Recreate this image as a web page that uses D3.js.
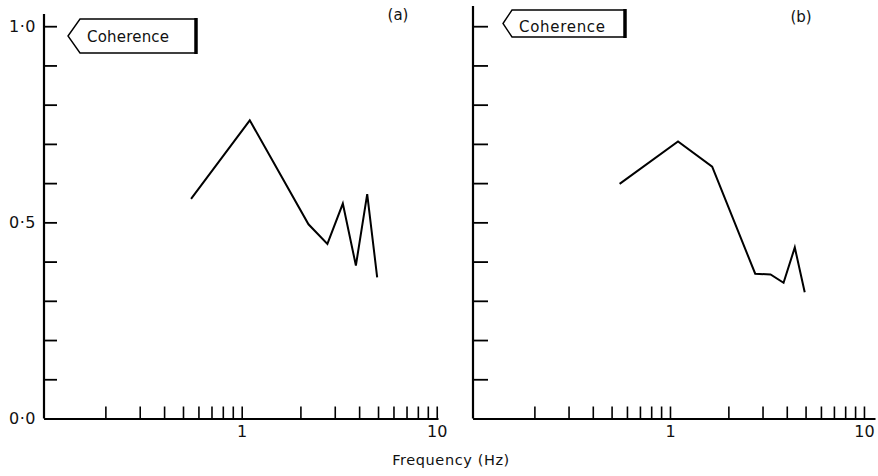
<!DOCTYPE html>
<html>
<head>
<meta charset="utf-8">
<script src="https://cdn.jsdelivr.net/npm/d3@7"></script>
<style>
  body { margin: 0; background: #fff; }
  svg text { font-family: "DejaVu Sans", sans-serif; fill: #111; }
</style>
</head>
<body>
<div id="chart"></div>
<script>
// frequencies (Hz) and coherence
const freqA = [0.55, 1.1, 2.2, 2.75, 3.3, 3.85, 4.4, 4.95];
const cohA = [0.56, 0.76, 0.495, 0.445, 0.548, 0.39, 0.572, 0.36];
const freqB = [0.55, 1.1, 1.65, 2.75, 3.3, 3.85, 4.4, 4.95];
const cohB = [0.598, 0.706, 0.642, 0.369, 0.367, 0.346, 0.436, 0.322];

const xTicks = [0.2, 0.3, 0.4, 0.5, 0.6, 0.7, 0.8, 0.9, 1, 2, 3, 4, 5, 6, 7, 8, 9, 10];
const xLabels = [1, 10];
const yTicks = [0, 0.1, 0.2, 0.3, 0.4, 0.5, 0.6, 0.7, 0.8, 0.9, 1.0];
const yLabels = { 0: "0·0", 0.5: "0·5", 1: "1·0" };

const W = 878, H = 476;

const svg = d3.select("#chart").append("svg")
    .attr("width", W)
    .attr("height", H);

const y = d3.scaleLinear().domain([0, 1]).range([418.5, 26.2]);

function panel(opt) {
    const x = d3.scaleLog().domain(opt.xDomain).range(opt.xRange);
    const g = svg.append("g");

    // x axis, ticks pointing up
    const xAxis = g.append("g")
        .attr("transform", "translate(0," + y(0) + ")")
        .call(d3.axisBottom(x)
            .tickValues(xTicks)
            .tickSize(-12)
            .tickSizeOuter(0)
            .tickPadding(7)
            .tickFormat(d => xLabels.includes(d) ? String(d) : ""));
    xAxis.select(".domain").attr("stroke-width", 2.2);
    xAxis.selectAll(".tick line").attr("stroke-width", 1.6);
    xAxis.selectAll("text").attr("font-size", 16).attr("fill", "#111");

    // y axis, ticks pointing right
    const yAxis = g.append("g")
        .attr("transform", "translate(" + opt.xRange[0] + ",0)")
        .call(d3.axisLeft(y)
            .tickValues(yTicks)
            .tickSize(-opt.yTick)
            .tickSizeOuter(0)
            .tickPadding(8)
            .tickFormat(d => opt.yText && yLabels[d] ? yLabels[d] : ""));
    yAxis.select(".domain").attr("d", "M0," + opt.yTop + "V" + y(0)).attr("stroke-width", 2.2);
    yAxis.selectAll(".tick line").attr("stroke-width", 1.8);
    yAxis.selectAll("text").attr("font-size", 16).attr("letter-spacing", 0.5).attr("fill", "#111");

    // data line
    const pts = opt.freq.map((f, i) => [f, opt.coh[i]]);
    g.append("path")
        .datum(pts)
        .attr("fill", "none")
        .attr("stroke", "#000")
        .attr("stroke-width", 2)
        .attr("stroke-linejoin", "miter")
        .attr("d", d3.line().x(d => x(d[0])).y(d => y(d[1])));

    // "Coherence" flag label
    const b = opt.box;
    g.append("path")
        .attr("d", `M${b.x0},${(b.y0 + b.y1) / 2}L${b.x1},${b.y0}H${b.x2}V${b.y1}H${b.x1}Z`)
        .attr("fill", "none")
        .attr("stroke", "#000")
        .attr("stroke-width", 1.4);
    g.append("line")
        .attr("x1", b.x2).attr("x2", b.x2)
        .attr("y1", b.y0 - 1).attr("y2", b.y1 + 1)
        .attr("stroke", "#000")
        .attr("stroke-width", 3.5);
    g.append("text")
        .attr("x", b.tx)
        .attr("y", b.ty)
        .attr("font-size", 15)
        .attr("textLength", b.tw)
        .text("Coherence");

    g.append("text")
        .attr("x", opt.tag[0])
        .attr("y", opt.tag[1])
        .attr("text-anchor", "middle")
        .attr("font-size", 15)
        .text(opt.tagText);
}

panel({
    freq: freqA, coh: cohA,
    xDomain: [0.0969, 10.15], xRange: [44, 438],
    yTop: 14, yTick: 13, yText: true,
    box: { x0: 68, x1: 80, x2: 196, y0: 19, y1: 53, tx: 87, ty: 42, tw: 82 },
    tag: [398, 20], tagText: "(a)"
});

panel({
    freq: freqB, coh: cohB,
    xDomain: [0.0965, 11.4], xRange: [473, 875],
    yTop: 6, yTick: 15, yText: false,
    box: { x0: 503, x1: 512, x2: 625, y0: 10, y1: 37, tx: 519, ty: 32, tw: 86 },
    tag: [801, 22], tagText: "(b)"
});

svg.append("text")
    .attr("x", 451)
    .attr("y", 465)
    .attr("text-anchor", "middle")
    .attr("font-size", 14.5)
    .attr("letter-spacing", 0.6)
    .text("Frequency (Hz)");
</script>
</body>
</html>
